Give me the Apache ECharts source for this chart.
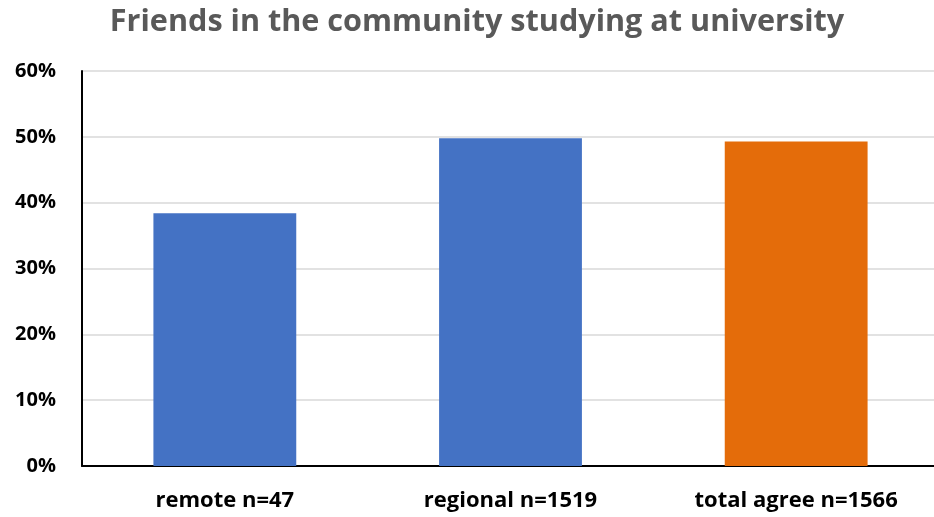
<!DOCTYPE html>
<html>
<head>
<meta charset="utf-8">
<script src="https://cdn.jsdelivr.net/npm/echarts@6/dist/echarts.min.js"></script>
<style>
  html, body { margin: 0; padding: 0; background: #fff; }
  #chart { width: 934px; height: 517px; }
</style>
</head>
<body>
<div id="chart"></div>
<script>
// Share of respondents with friends in the community studying at university
const categories = ['remote n=47', 'regional n=1519', 'total agree n=1566'];
const values = [38.4, 49.8, 49.3];
const barColors = ['#4472C4', '#4472C4', '#E46C0A'];
const yTicks = [0, 10, 20, 30, 40, 50, 60];

const chart = echarts.init(document.getElementById('chart'), null, { renderer: 'canvas' });

chart.setOption({
  backgroundColor: '#ffffff',
  animation: false,
  title: {
    text: 'Friends in the community studying at university',
    left: 472,
    textAlign: 'center',
    top: 2,
    textStyle: {
      fontFamily: 'Open Sans',
      fontWeight: 'bold',
      fontSize: 30.6,
      color: '#595959'
    }
  },
  grid: {
    left: 82,
    top: 71,
    width: 857,
    height: 395,
    containLabel: false,
    outerBoundsMode: 'none'
  },
  xAxis: {
    type: 'category',
    data: categories,
    axisLine: { show: true, lineStyle: { color: '#000000', width: 2 } },
    axisTick: { show: false },
    axisLabel: {
      margin: 24,
      fontFamily: 'Open Sans',
      fontWeight: 'bold',
      fontSize: 22,
      color: '#000000'
    }
  },
  yAxis: {
    type: 'value',
    min: yTicks[0],
    max: yTicks[yTicks.length - 1],
    interval: 10,
    axisLine: { show: true, lineStyle: { color: '#000000', width: 2 } },
    axisTick: { show: false },
    splitLine: { show: true, lineStyle: { color: '#d9d9d9', width: 1.5 } },
    axisLabel: {
      margin: 26,
      formatter: v => v + '%',
      fontFamily: 'Open Sans',
      fontWeight: 'bold',
      fontSize: 20,
      color: '#000000'
    }
  },
  series: [{
    type: 'bar',
    data: values.map((v, i) => ({ value: v, itemStyle: { color: barColors[i] } })),
    barWidth: '50%',
    z: 3
  }]
});
</script>
</body>
</html>
